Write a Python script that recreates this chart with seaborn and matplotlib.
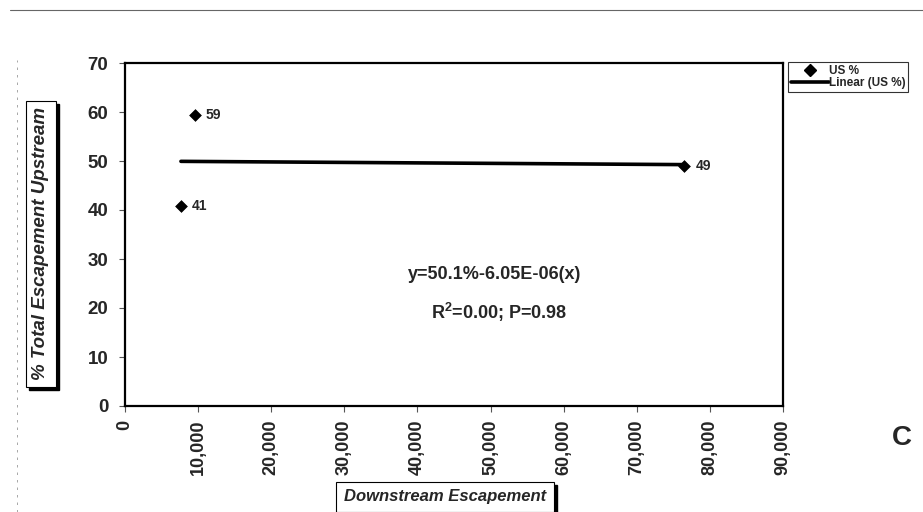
import matplotlib
matplotlib.use("Agg")
import matplotlib.pyplot as plt
from matplotlib.lines import Line2D
from matplotlib.patches import Rectangle
import seaborn as sns
import pandas as pd

# ---- data ----
downstream = [7650, 9560, 76500]
us_pct = [40.8, 59.3, 49.0]
point_labels = ["41", "59", "49"]
x_ticks = [0, 10000, 20000, 30000, 40000, 50000, 60000, 70000, 80000, 90000]
y_ticks = [0, 10, 20, 30, 40, 50, 60, 70]
equation_text = "y=50.1%-6.05E-06(x)"
stats_text = "R$^{\\mathbf{2}}$=0.00; P=0.98"

df = pd.DataFrame({"Downstream": downstream, "US": us_pct})

sns.set_style("ticks")
plt.rcParams["font.family"] = ["Liberation Sans", "DejaVu Sans"]
plt.rcParams["font.weight"] = "bold"
plt.rcParams["mathtext.fontset"] = "custom"
plt.rcParams["mathtext.rm"] = "Liberation Sans:bold"
plt.rcParams["mathtext.bf"] = "Liberation Sans:bold"

W, H = 923, 512
fig = plt.figure(figsize=(W / 100, H / 100), dpi=100)
ax = fig.add_axes([125 / W, 1 - 406 / H, (783 - 125) / W, (406 - 63) / H])

sns.regplot(data=df, x="Downstream", y="US", ax=ax, scatter=False, ci=None,
            truncate=True, color="black", line_kws={"lw": 2.6})
reg_line = ax.lines[-1]
sns.scatterplot(data=df, x="Downstream", y="US", ax=ax, marker="D", s=36,
                color="black", edgecolor="black", zorder=5, legend=False)

for xv, yv, lab in zip(downstream, us_pct, point_labels):
    ax.annotate(lab, (xv, yv), xytext=(8, 0), textcoords="offset points",
                va="center", ha="left", fontsize=10, fontweight="bold")

ax.set_xlim(0, 90000)
ax.set_ylim(0, 70)
ax.set_xticks(x_ticks)
ax.set_xticklabels([f"{v:,}" for v in x_ticks], rotation=90, fontsize=13, fontweight="bold")
ax.set_yticks(y_ticks)
ax.set_yticklabels([str(v) for v in y_ticks], fontsize=13.5, fontweight="bold")
ax.tick_params(axis="x", direction="out", length=4, width=0.8, color="#555555", pad=6)
ax.tick_params(axis="y", direction="out", length=4, width=0.8, color="#555555", pad=8)
for sp in ax.spines.values():
    sp.set_visible(True)
    sp.set_linewidth(1.6)
    sp.set_color("black")
ax.set_xlabel("")
ax.set_ylabel("")

ax.text(0.562, 0.382, equation_text, transform=ax.transAxes, ha="center", va="center",
        fontsize=13, fontweight="bold")
ax.text(0.568, 0.274, stats_text, transform=ax.transAxes, ha="center", va="center",
        fontsize=13, fontweight="bold")

# legend
pt_handle = Line2D([], [], ls="none", marker="D", ms=6, color="black")
line_handle = Line2D([], [], color=reg_line.get_color(), lw=2.6)
leg = ax.legend([pt_handle, line_handle], ["US %", "Linear (US %)"],
                loc="upper left", bbox_to_anchor=(788 / W, 1 - 62 / H),
                bbox_transform=fig.transFigure, fontsize=8.5, frameon=True,
                fancybox=False, edgecolor="black", borderpad=0.25, labelspacing=0.0,
                handlelength=3.2, handletextpad=0.0, borderaxespad=0)
leg.get_frame().set_linewidth(0.8)
for t in leg.get_texts():
    t.set_fontweight("bold")

# boxed axis titles with drop shadow
def boxed_label(x, y, s, rotation, pad, size):
    return fig.text(x, y, s, ha="center", va="center", fontsize=size, fontweight="bold",
                    fontstyle="italic", rotation=rotation, zorder=5,
                    bbox=dict(boxstyle=f"square,pad={pad}", fc="white", ec="black", lw=0.8))

ylab = boxed_label(41 / W, 1 - 244 / H, "% Total Escapement Upstream", 90, 0.35, 13.5)
xlab = boxed_label(445 / W, 1 - 497 / H, "Downstream Escapement", 0, 0.45, 12)

fig.text(902 / W, 1 - 438 / H, "C", ha="center", va="center", fontsize=20, fontweight="bold")

fig.canvas.draw()
for t in (ylab, xlab):
    bb = t.get_bbox_patch().get_window_extent()
    fig.add_artist(Rectangle((bb.x0 + 3, bb.y0 - 3), bb.width, bb.height,
                             transform=None, fc="black", ec="black", zorder=4))

# scan frame lines
fig.add_artist(Line2D([10 / W, 1], [1 - 10 / H, 1 - 10 / H], transform=fig.transFigure,
                      color="#666666", lw=0.8))
fig.add_artist(Line2D([17 / W, 17 / W], [0, 1 - 60 / H], transform=fig.transFigure,
                      color="#999999", lw=0.6, ls=(0, (3, 6))))

fig.savefig("out.png", dpi=100)
